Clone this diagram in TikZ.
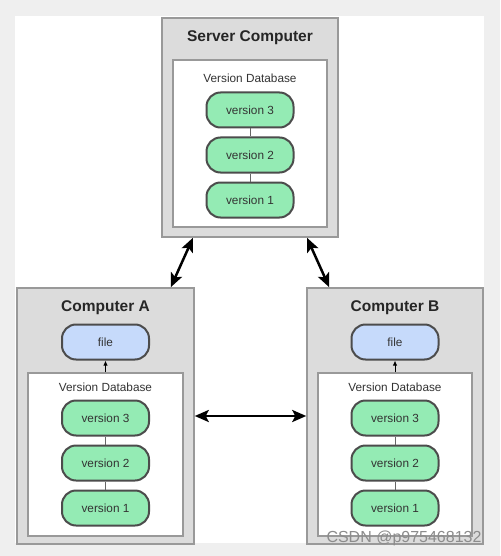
\documentclass[tikz,border=0pt]{standalone}
\usepackage{fontspec}
\setmainfont{Liberation Sans}
\usetikzlibrary{positioning, arrows.meta}

\definecolor{bggray}{HTML}{EFEFEF}
\definecolor{pcgray}{HTML}{DCDCDC}
\definecolor{edgegray}{HTML}{999999}
\definecolor{vergreen}{HTML}{94EBB4}
\definecolor{fileblue}{HTML}{C6DAFB}
\definecolor{inkgray}{HTML}{333333}

\newcommand{\titlefont}{\fontsize{15.5}{18}\selectfont\bfseries}
\newcommand{\smallfont}{\fontsize{11.8}{14}\selectfont}

\begin{document}
\begin{tikzpicture}[x=1pt, y=-1pt, node distance={45pt}, text=inkgray,
  pc/.style = {draw=edgegray, fill=pcgray, line width=1.5pt},
  db/.style = {draw=edgegray, fill=white, line width=1.2pt},
  ver/.style = {draw=black!70, fill=vergreen, line width=2pt, rounded corners=14pt,
    minimum width=87pt, minimum height=35pt, font=\smallfont},
  file/.style = {ver, fill=fileblue},
  label/.style = {font=\smallfont},
  title/.style = {font=\titlefont, text=black!85},
  link/.style = {draw=black!60, line width=1pt},
  sync/.style = {{Stealth[length=14pt,width=12pt,inset=3pt]}-{Stealth[length=14pt,width=12pt,inset=3pt]}, line width=2.5pt},
  up/.style = {-{Latex[length=5pt,width=4.5pt]}, line width=1pt}]
\useasboundingbox (0,0) rectangle (500,556);
\fill[bggray] (0,0) rectangle (500,556);
\fill[white] (15,16) rectangle (484,543);

% server
\node[pc, minimum width=176pt, minimum height=219pt] (server) at (250,127.5) {};
\node[title] (stitle) at (250,38) {Server Computer};
\node[db, minimum width=154pt, minimum height=167pt] (sdb) at (250,143.5) {};
\node[label] (slabel) at (250,78) {Version Database};
\node[ver] (s3) at (250,110) {version 3};
\node[ver] (s2) [below of=s3] {version 2};
\node[ver] (s1) [below of=s2] {version 1};

% computer A
\node[pc, minimum width=177pt, minimum height=256pt] (pcA) at (105.5,416) {};
\node[title] (atitle) at (105.5,308) {Computer A};
\node[file] (afile) at (105.5,342) {file};
\node[db, minimum width=155pt, minimum height=163pt] (adb) at (105.5,454.5) {};
\node[label] (alabel) at (105.5,387) {Version Database};
\node[ver] (a3) at (105.5,418) {version 3};
\node[ver] (a2) [below of=a3] {version 2};
\node[ver] (a1) [below of=a2] {version 1};

% computer B
\node[pc, minimum width=176pt, minimum height=256pt] (pcB) at (395,416) {};
\node[title] (btitle) at (395,308) {Computer B};
\node[file] (bfile) at (395,342) {file};
\node[db, minimum width=154pt, minimum height=163pt] (bdb) at (395,454.5) {};
\node[label] (blabel) at (395,387) {Version Database};
\node[ver] (b3) at (395,418) {version 3};
\node[ver] (b2) [below of=b3] {version 2};
\node[ver] (b1) [below of=b2] {version 1};

\draw[link] (s3) -- (s2);
\draw[link] (s2) -- (s1);
\draw[link] (a3) -- (a2);
\draw[link] (a2) -- (a1);
\draw[link] (b3) -- (b2);
\draw[link] (b2) -- (b1);

\draw[up] (adb.north) -- (afile);
\draw[up] (bdb.north) -- (bfile);

\draw[sync] ([xshift=-57pt]server.south) -- ([xshift=-24pt]pcA.north east);
\draw[sync] ([xshift=57pt]server.south) -- ([xshift=23pt]pcB.north west);
\draw[sync] (pcA.east) -- (pcB.west);

\node[font=\fontsize{16}{18}\selectfont, text=black!45] (mark) at (404,538) {CSDN @p975468132};
\end{tikzpicture}
\end{document}
